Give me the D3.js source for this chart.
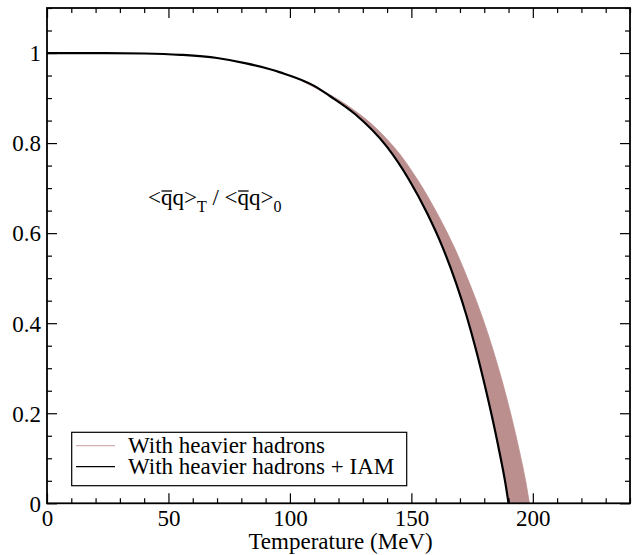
<!DOCTYPE html>
<html>
<head>
<meta charset="utf-8">
<script src="https://cdn.jsdelivr.net/npm/d3@7"></script>
<style>
  html, body { margin: 0; padding: 0; background: #fff; }
  svg { display: block; }
</style>
</head>
<body>
<svg id="chart" width="634" height="555"></svg>
<script>
// ---- data ----
// Black curve: "With heavier hadrons + IAM"
const iamT = [0, 20, 40, 55, 70, 82, 96, 110, 116.6, 126.9, 139.9, 149.1, 156.5, 162.9, 168.4, 172.8, 176.6, 180.0, 183.2, 186.1, 188.6, 190];
const iamV = [1, 1, 0.999, 0.996, 0.989, 0.977, 0.957, 0.927, 0.904, 0.864, 0.792, 0.718, 0.644, 0.568, 0.489, 0.415, 0.341, 0.267, 0.192, 0.118, 0.048, 0];
// Band "With heavier hadrons": temperature range at given ratio levels
const bandV     = [0.938, 0.904, 0.864, 0.792, 0.718, 0.644, 0.568, 0.489, 0.415, 0.341, 0.267, 0.192, 0.118, 0.048, 0];
const bandLowT  = [105, 116.6, 126.9, 139.9, 149.1, 156.5, 162.9, 168.4, 172.8, 176.6, 180.0, 183.2, 186.1, 188.6, 190];
const bandHighT = [105, 117.6, 128.7, 142.7, 152.6, 160.6, 167.7, 173.9, 179.1, 183.6, 187.6, 191.2, 194.4, 197.1, 198.6];
// Axes
const xMajorTicks = [0, 50, 100, 150, 200];
const yMajorTicks = [0, 0.2, 0.4, 0.6, 0.8, 1];
const xLabel = "Temperature (MeV)";
const legendLabels = ["With heavier hadrons", "With heavier hadrons + IAM"];

const FONT = '"Liberation Serif", "Times New Roman", serif';
const FS = 23;

// ---- layout ----
const svg = d3.select("#chart").style("font-family", FONT);
const L = 47, R = 630, T = 8, B = 503.3;
const x = d3.scaleLinear().domain([0, 240]).range([L, R]);
const y = d3.scaleLinear().domain([0, 1.1]).range([B, T]);
const bandColor = "#bc8f8f";

svg.append("clipPath").attr("id", "clip")
  .append("rect").attr("x", L).attr("y", T).attr("width", R - L).attr("height", B - T);

const plot = svg.append("g").attr("clip-path", "url(#clip)");

// band
const bandData = bandV.map((v, i) => ({ v, lo: bandLowT[i], hi: bandHighT[i] }));
const area = d3.area()
  .y(d => y(d.v))
  .x0(d => x(d.lo))
  .x1(d => x(d.hi))
  .curve(d3.curveMonotoneY);
plot.append("path").datum(bandData)
  .attr("d", area)
  .attr("fill", bandColor)
  .attr("stroke", bandColor)
  .attr("stroke-width", 0.8);

// black line
const iamData = iamT.map((t, i) => ({ t, v: iamV[i] }));
const line = d3.line().x(d => x(d.t)).y(d => y(d.v)).curve(d3.curveMonotoneX);
plot.append("path").datum(iamData)
  .attr("d", line)
  .attr("fill", "none")
  .attr("stroke", "#000")
  .attr("stroke-width", 2.2);

// ---- axes (ticks inward on all four sides) ----
const majLen = 10, minLen = 5;
const xMinor = d3.range(0, 241, 10).filter(v => !xMajorTicks.includes(v));
const yMinor = d3.range(0, 23).map(i => +(i * 0.05).toFixed(2)).filter(v => !yMajorTicks.includes(v) && v <= 1.1);

const axB = svg.append("g").attr("transform", `translate(0,${B})`);
axB.call(d3.axisBottom(x).tickValues(xMajorTicks).tickSize(-majLen).tickFormat(d3.format("d")));
axB.append("g").call(d3.axisBottom(x).tickValues(xMinor).tickSize(-minLen).tickFormat(""));

const axT = svg.append("g").attr("transform", `translate(0,${T})`);
axT.call(d3.axisTop(x).tickValues(xMajorTicks).tickSize(-majLen).tickFormat(""));
axT.append("g").call(d3.axisTop(x).tickValues(xMinor).tickSize(-minLen).tickFormat(""));

const axL = svg.append("g").attr("transform", `translate(${L},0)`);
axL.call(d3.axisLeft(y).tickValues(yMajorTicks).tickSize(-majLen).tickFormat(d => d === 0 || d === 1 ? d3.format("d")(d) : d3.format(".1f")(d)));
axL.append("g").call(d3.axisLeft(y).tickValues(yMinor).tickSize(-minLen).tickFormat(""));

const axR = svg.append("g").attr("transform", `translate(${R},0)`);
axR.call(d3.axisRight(y).tickValues(yMajorTicks).tickSize(-majLen).tickFormat(""));
axR.append("g").call(d3.axisRight(y).tickValues(yMinor).tickSize(-minLen).tickFormat(""));

svg.selectAll(".domain").remove();
svg.selectAll("g").attr("font-family", null).attr("font-size", null);
svg.selectAll(".tick line").attr("stroke", "#000").attr("stroke-width", 1.2);
svg.selectAll(".tick text").attr("font-family", FONT).attr("font-size", FS).attr("fill", "#000");
axB.selectAll(".tick text").attr("y", 23.2).attr("dy", null);
axL.selectAll(".tick text").attr("x", -6).attr("dy", "0.34em");

// frame
svg.append("rect").attr("x", L).attr("y", T).attr("width", R - L).attr("height", B - T)
  .attr("fill", "none").attr("stroke", "#000").attr("stroke-width", 1.8);

// x axis title
svg.append("text").attr("x", (L + R) / 2 + 2).attr("y", 548.5)
  .attr("text-anchor", "middle").attr("font-family", FONT).attr("font-size", FS).text(xLabel);

// ---- annotation  <q̄q>_T / <q̄q>_0 ----
const ann = svg.append("text").attr("x", 148).attr("y", 205).attr("font-family", FONT).attr("font-size", FS);
ann.append("tspan").text("<qq>");
ann.append("tspan").attr("font-size", 16).attr("dy", 7).text("T");
ann.append("tspan").attr("dy", -7).text(" / <qq>");
ann.append("tspan").attr("font-size", 16).attr("dy", 7).text("0");
// overbars above the first q of each pair (char indices 1 and 9)
const annNode = ann.node();
[1, 9].forEach(ci => {
  const ext = annNode.getExtentOfChar(ci);
  svg.append("line")
    .attr("x1", ext.x + 0.5).attr("x2", ext.x + ext.width - 0.5)
    .attr("y1", 191).attr("y2", 191)
    .attr("stroke", "#000").attr("stroke-width", 1.3);
});

// ---- legend ----
const lg = svg.append("g");
lg.append("rect").attr("x", 71.7).attr("y", 432.3).attr("width", 335).attr("height", 53.4)
  .attr("fill", "#fff").attr("stroke", "#000").attr("stroke-width", 1.2);
const legendColors = ["#d2aeae", "#000"];
const rowY = [445.7, 466.7];
legendLabels.forEach((lab, i) => {
  lg.append("line").attr("x1", 76).attr("x2", 115).attr("y1", rowY[i]).attr("y2", rowY[i])
    .attr("stroke", legendColors[i]).attr("stroke-width", 1.2);
  lg.append("text").attr("x", 128).attr("y", rowY[i]).attr("dy", "0.33em")
    .attr("font-family", FONT).attr("font-size", FS).text(lab);
});
</script>
</body>
</html>
